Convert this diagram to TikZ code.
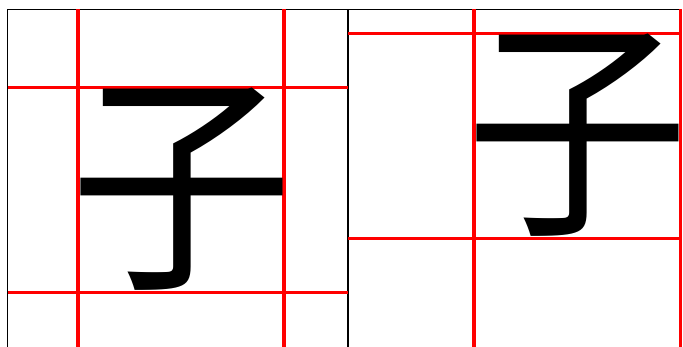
\documentclass[tikz,border=0pt]{standalone}
\usepackage{fontspec}
\newfontfamily\cjk{Noto Sans CJK SC}
\newcommand{\zichar}{\makebox[200pt][c]{\scalebox{1}[1.055]{子}}}
\begin{document}
\begin{tikzpicture}[x=1pt,y=-1pt,
  frame/.style={draw=black,line width=1.3pt},
  guide/.style={draw=red,line width=3.3pt},
  glyph/.style={inner sep=0pt,outer sep=0pt,font=\cjk\fontsize{224}{224}\selectfont}]
\useasboundingbox (0,0) rectangle (683,347);
% frames
\coordinate (tl) at (7.5,9.5);
\coordinate (tr) at (681,9.5);
\coordinate (bl) at (7.5,347);
\coordinate (mt) at (348,9.5);
\coordinate (mb) at (348,347);
\draw[frame] (bl) -- (tl) -- (tr);
\draw[frame] (mt) -- (mb);
% left panel guides
\coordinate (l1t) at (78,9.5);  \coordinate (l1b) at (78,347);
\coordinate (l2t) at (284,9.5); \coordinate (l2b) at (284,347);
\coordinate (lh1a) at (7.5,87.5); \coordinate (lh1b) at (348,87.5);
\coordinate (lh2a) at (7.5,292.5); \coordinate (lh2b) at (348,292.5);
\draw[guide] (l1t) -- (l1b);
\draw[guide] (l2t) -- (l2b);
\draw[guide] (lh1a) -- (lh1b);
\draw[guide] (lh2a) -- (lh2b);
% right panel guides
\coordinate (r1t) at (474,9.5);  \coordinate (r1b) at (474,347);
\coordinate (r2t) at (680.5,9.5); \coordinate (r2b) at (680.5,347);
\coordinate (rh1a) at (348,33.5); \coordinate (rh1b) at (681,33.5);
\coordinate (rh2a) at (348,238.5); \coordinate (rh2b) at (681,238.5);
\draw[guide] (r1t) -- (r1b);
\draw[guide] (r2t) -- (r2b);
\draw[guide] (rh1a) -- (rh1b);
\draw[guide] (rh2a) -- (rh2b);
% characters
\node[glyph] (cl) at (181,189) {\zichar};
\node[glyph] (cr) at (577,135.5) {\zichar};
\end{tikzpicture}
\end{document}
